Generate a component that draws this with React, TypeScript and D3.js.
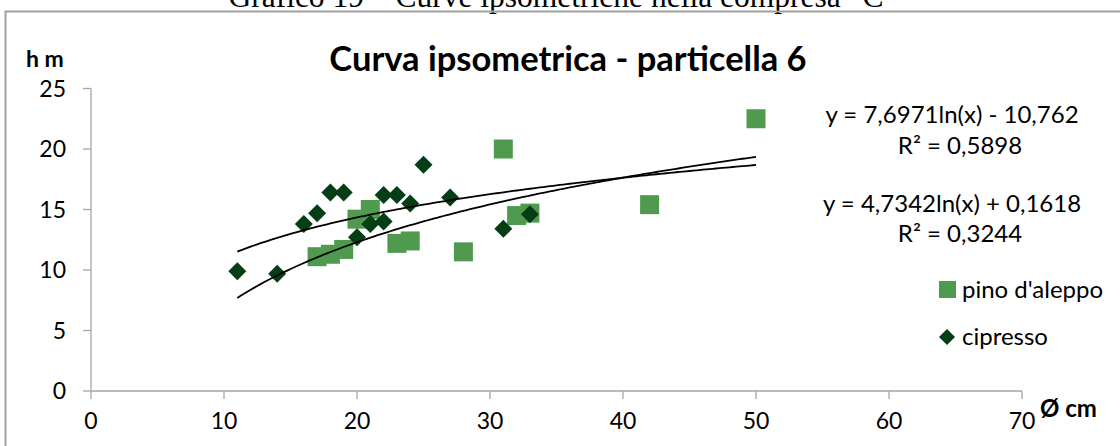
import { useEffect } from 'react';
import * as d3 from 'd3';

// diametro (cm) / altezza (m)
const pinoD = [17, 18, 19, 20, 21, 23, 24, 28, 31, 32, 33, 42, 50];
const pinoH = [11.1, 11.3, 11.7, 14.2, 15.0, 12.2, 12.4, 11.5, 20.0, 14.5, 14.7, 15.4, 22.5];
const cipD = [11, 14, 16, 17, 18, 19, 20, 21, 22, 22, 23, 24, 25, 27, 31, 33];
const cipH = [9.9, 9.7, 13.8, 14.7, 16.4, 16.4, 12.7, 13.8, 16.2, 14.0, 16.2, 15.5, 18.7, 16.0, 13.4, 14.6];

const xTicks = [0, 10, 20, 30, 40, 50, 60, 70];
const yTicks = [0, 5, 10, 15, 20, 25];

// trendlines (log) as printed on the chart
const pinoFit = { a: 7.6971, b: -10.762, label: 'y = 7,6971ln(x) - 10,762', r2: 'R² = 0,5898' };
const cipFit = { a: 4.7342, b: 0.1618, label: 'y = 4,7342ln(x) + 0,1618', r2: 'R² = 0,3244' };

const W = 1120;
const H = 446;
const FONT = 'Lato, "Liberation Sans", sans-serif';
const AXIS = '#a6a6a6';
const PINO = '#4f9a4f';
const CIP = '#053d14';

export default function App() {
  useEffect(() => {
    document.body.style.margin = '0';
  }, []);

  const x = d3.scaleLinear().domain([0, 70]).range([91, 1022]);
  const y = d3.scaleLinear().domain([0, 25]).range([391, 88.5]);

  const allD = [...pinoD, ...cipD];
  const [dMin, dMax] = d3.extent(allD) as [number, number];
  const steps = d3.range(dMin, dMax + 0.001, 0.25);

  const line = d3.line<number>()
    .x(d => x(d))
    .curve(d3.curveLinear);

  const fitPath = (f: { a: number; b: number }) =>
    line.y(d => y(f.a * Math.log(d) + f.b))(steps) || '';

  const diamond = d3.symbol().type(d3.symbolSquare).size(162)() || '';

  return (
    <svg width={W} height={H} style={{ display: 'block', position: 'absolute', left: 0, top: 0 }}>
      <rect width={W} height={H} fill="#fff" />
      {/* caption of the page, cut at the top as in the source */}
      <text x={563} y={7} textAnchor="middle" fontFamily='"Liberation Serif", "DejaVu Serif", serif'
        fontSize={31.5} fill="#000">Grafico 19 – Curve ipsometriche nella compresa “C”</text>
      {/* chart frame */}
      <path d={`M5.5,${H} V11.5 H${W}`} fill="none" stroke="#a0a0a0" strokeWidth={2} />

      {/* title */}
      <text x={568} y={71} textAnchor="middle" fontFamily={FONT} fontWeight="bold" fontSize={34.5} fill="#000">
        Curva ipsometrica - particella 6
      </text>
      <text x={26} y={67} fontFamily={FONT} fontWeight="bold" fontSize={23} fill="#000">h m</text>
      <text x={1040} y={417} fontFamily={FONT} fontWeight="bold" fontSize={24} fill="#000">Ø cm</text>

      {/* y axis */}
      <g>
        <line x1={x(0)} x2={x(0)} y1={y(0)} y2={y(25)} stroke={AXIS} strokeWidth={1.3} />
        {yTicks.map(t => (
          <g key={`y${t}`}>
            <line x1={x(0) - 8} x2={x(0)} y1={y(t)} y2={y(t)} stroke={AXIS} strokeWidth={1.3} />
            <text x={66} y={y(t) + 8} textAnchor="end" fontFamily={FONT} fontSize={23} fill="#000">{t}</text>
          </g>
        ))}
      </g>
      {/* x axis */}
      <g>
        <line x1={x(0)} x2={x(70)} y1={y(0)} y2={y(0)} stroke={AXIS} strokeWidth={1.3} />
        {xTicks.map(t => (
          <g key={`x${t}`}>
            <line x1={x(t)} x2={x(t)} y1={y(0)} y2={y(0) + 8} stroke={AXIS} strokeWidth={1.3} />
            <text x={x(t)} y={429} textAnchor="middle" fontFamily={FONT} fontSize={23} fill="#000">{t}</text>
          </g>
        ))}
      </g>

      {/* pino d'aleppo squares */}
      {pinoD.map((d, i) => (
        <rect key={`p${i}`} x={x(d) - 9.5} y={y(pinoH[i]) - 9.5} width={19} height={19} fill={PINO} />
      ))}
      {/* cipresso diamonds */}
      {cipD.map((d, i) => (
        <path key={`c${i}`} d={diamond} transform={`translate(${x(d)},${y(cipH[i])}) rotate(45)`} fill={CIP} />
      ))}

      {/* trendlines */}
      <path d={fitPath(pinoFit)} fill="none" stroke="#000" strokeWidth={1.8} />
      <path d={fitPath(cipFit)} fill="none" stroke="#000" strokeWidth={1.8} />

      {/* equations */}
      <g fontFamily={FONT} fontSize={24} fill="#000" textAnchor="middle">
        <text x={952} y={123}>{pinoFit.label}</text>
        <text x={960} y={154}>{pinoFit.r2}</text>
        <text x={952} y={212}>{cipFit.label}</text>
        <text x={960} y={242}>{cipFit.r2}</text>
      </g>

      {/* legend */}
      <rect x={939} y={281} width={17} height={17} fill={PINO} />
      <text x={962} y={298} fontFamily={FONT} fontSize={24} fill="#000">pino d'aleppo</text>
      <path d={d3.symbol().type(d3.symbolSquare).size(128)() || ''} transform="translate(947,337) rotate(45)" fill={CIP} />
      <text x={962} y={345} fontFamily={FONT} fontSize={24} fill="#000">cipresso</text>
    </svg>
  );
}
